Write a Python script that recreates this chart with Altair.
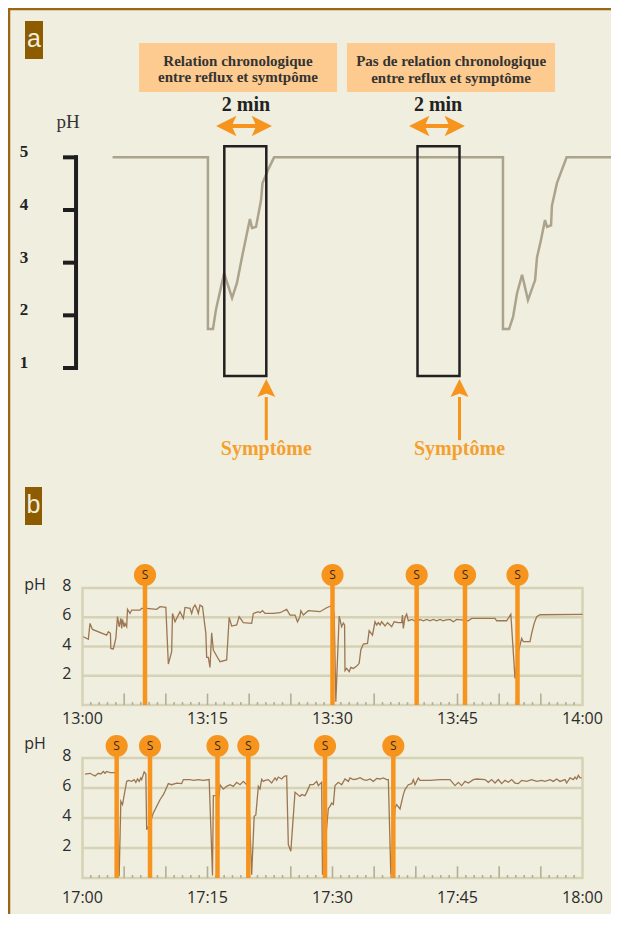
import altair as alt
import pandas as pd

# ---------------- panel a : schematic trace (minutes, pH) ----------------
a_trace = [(4.98, 5.0), (9.52, 5.0), (9.52, 1.74), (9.76, 1.74), (9.9, 2.1), (10.29, 2.8), (10.67, 2.33),
           (10.9, 2.61), (11.14, 3.1), (11.43, 3.66), (11.52, 3.83), (11.62, 3.66), (11.81, 3.68), (12.05, 4.19),
           (12.12, 4.51), (12.38, 4.76), (12.67, 5.0),
           (23.57, 5.0), (23.57, 1.74), (23.86, 1.74), (24.05, 1.97), (24.24, 2.42), (24.48, 2.77), (24.76, 2.29),
           (25.1, 2.67), (25.19, 3.1), (25.38, 3.43), (25.57, 3.81), (25.67, 3.68), (25.86, 3.71), (25.9, 4.08),
           (26.14, 4.51), (26.6, 5.0), (29.2, 5.0)]
a_window_start = [10.3, 19.5]
a_window_len = 2
a_ph_ticks = [1, 2, 3, 4, 5]
a_titles = ["Relation chronologique", "entre reflux et symtpôme",
            "Pas de relation chronologique", "entre reflux et symptôme"]

# ---------------- panel b : recordings (minutes after the hour, pH) ----------------
b1_trace = [(0.1, 4.67), (0.7, 4.49), (0.9, 5.58), (1.2, 5.17), (2.9, 4.78), (3.1, 5.01), (3.35, 4.90), (3.4, 3.87),
            (3.7, 3.83), (4.0, 4.56), (4.2, 6.04), (4.4, 5.35), (4.6, 5.92), (4.7, 5.24), (4.8, 5.85), (5.0, 5.35),
            (5.1, 5.58), (5.3, 5.35), (5.4, 6.54), (5.7, 6.26), (5.9, 6.49), (6.9, 6.49), (7.1, 6.61), (7.7, 6.61),
            (8.9, 6.54), (9.3, 6.72), (10.0, 6.67), (10.3, 2.80), (10.7, 3.64), (10.8, 6.26), (11.1, 5.69),
            (11.7, 6.38), (12.1, 5.92), (12.3, 6.67), (12.9, 6.61), (13.1, 6.26), (13.3, 6.67), (13.5, 6.83),
            (13.7, 6.61), (13.9, 6.26), (14.1, 6.83), (14.4, 6.72), (14.8, 4.90), (14.9, 3.26), (15.1, 3.26),
            (15.3, 2.57), (15.5, 4.94), (15.7, 3.76), (16.5, 2.96), (17.3, 3.08), (17.6, 5.99), (17.9, 5.40),
            (18.5, 5.47), (18.8, 6.04), (19.3, 5.63), (20.3, 5.58), (20.5, 6.26), (21.1, 6.38), (21.3, 6.31),
            (21.6, 6.45), (21.9, 6.26), (22.9, 6.26), (23.7, 6.31), (24.5, 6.54), (24.9, 6.15), (25.5, 6.15),
            (25.8, 5.69), (26.1, 6.04), (26.2, 6.45), (26.5, 6.15), (27.1, 6.45), (28.5, 6.38), (29.3, 6.65),
            (29.8, 6.77), (30.0, 6.61), (30.2, 6.26), (30.4, 0.23), (30.8, 6.08), (31.1, 5.35), (31.3, 5.60),
            (31.45, 5.47), (31.5, 2.35), (31.7, 2.50), (32.0, 2.28), (32.2, 2.57), (32.5, 2.50), (32.9, 2.66),
            (33.2, 2.85), (33.4, 3.76), (33.7, 4.17), (34.2, 4.21), (34.4, 5.08), (34.8, 4.78), (35.1, 5.69),
            (35.3, 5.47), (35.5, 5.63), (35.7, 5.47), (35.9, 5.69), (36.3, 5.40), (36.6, 5.63), (36.9, 5.47),
            (37.1, 5.35), (37.4, 5.69), (37.9, 5.63), (38.3, 5.63), (38.4, 6.15), (38.5, 5.24), (38.7, 5.99),
            (38.9, 6.22), (39.1, 5.76), (39.5, 5.85), (40.1, 5.69), (40.5, 5.85), (40.9, 5.76), (41.3, 5.85),
            (41.7, 5.76), (42.1, 5.85), (42.5, 5.76), (42.9, 5.85), (43.3, 5.76), (43.5, 5.80), (44.1, 5.85),
            (44.5, 5.69), (44.9, 5.85), (45.7, 5.80), (46.3, 5.76), (46.7, 5.92), (48.1, 5.92), (49.5, 5.92),
            (49.7, 5.76), (50.9, 5.76), (51.4, 6.20), (51.9, 1.82), (52.3, 3.64), (52.7, 4.56), (52.9, 4.33),
            (53.7, 4.33), (53.9, 4.90), (54.2, 5.58), (54.5, 6.04), (54.9, 6.17), (60.0, 6.20)]
b1_symptoms = [7.5, 30.0, 40.1, 45.9, 52.2]
b1_hours = ["13:00", "13:15", "13:30", "13:45", "14:00"]

b2_trace = [(0.3, 6.93), (0.9, 6.98), (1.5, 6.80), (1.9, 6.98), (2.2, 6.93), (2.5, 7.10), (2.7, 6.98), (2.9, 7.10),
            (3.3, 7.03), (3.9, 7.03), (4.0, 6.93), (4.4, 0.11), (4.6, 5.11), (4.8, 4.90), (5.3, 6.44), (5.5, 6.51),
            (5.9, 6.44), (6.2, 6.56), (6.4, 6.38), (6.6, 6.60), (6.8, 6.44), (7.0, 6.67), (7.1, 6.56), (7.4, 7.07),
            (7.6, 6.93), (7.7, 3.22), (8.1, 3.67), (8.5, 4.33), (9.3, 5.22), (9.7, 5.56), (9.9, 5.78), (10.3, 6.29),
            (10.7, 6.22), (11.3, 6.33), (11.9, 6.29), (12.1, 6.56), (12.9, 6.56), (13.3, 6.51), (13.9, 6.56),
            (14.5, 6.51), (15.2, 6.56), (15.6, 0.16), (15.7, 5.49), (16.4, 5.49), (16.5, 6.22), (16.9, 5.93),
            (17.3, 6.11), (17.7, 6.22), (18.1, 6.11), (18.5, 6.38), (18.9, 6.22), (19.3, 6.44), (19.7, 6.22),
            (19.9, 6.38), (20.3, 0.22), (20.6, 4.11), (20.8, 4.20), (21.1, 6.11), (21.3, 5.93), (21.5, 6.58),
            (21.7, 6.44), (21.9, 6.51), (22.3, 6.56), (22.7, 6.33), (23.1, 6.67), (23.3, 6.51), (23.5, 6.73),
            (23.9, 6.60), (24.2, 6.78), (24.5, 6.82), (24.7, 2.22), (25.0, 1.78), (25.5, 5.71), (26.1, 5.44),
            (26.3, 5.56), (26.7, 5.49), (26.9, 5.71), (27.3, 6.22), (27.7, 6.22), (28.1, 6.44), (28.3, 6.16),
            (28.7, 6.38), (28.8, 0.22), (29.5, 4.64), (29.7, 4.78), (29.9, 5.00), (30.1, 4.90), (30.3, 6.16),
            (30.7, 6.38), (31.1, 6.22), (31.5, 6.60), (31.9, 6.44), (32.1, 6.67), (32.5, 6.56), (32.9, 6.60),
            (33.3, 6.69), (33.7, 6.56), (34.1, 6.51), (34.5, 6.60), (34.9, 6.44), (35.3, 6.64), (35.7, 6.60),
            (36.1, 6.67), (36.5, 6.56), (36.7, 6.56), (37.0, 0.22), (37.5, 4.67), (37.7, 4.89), (38.1, 4.60),
            (38.5, 5.56), (38.7, 5.89), (39.1, 6.22), (39.5, 6.29), (39.7, 6.56), (39.9, 6.22), (40.3, 6.67),
            (40.5, 6.51), (41.7, 6.51), (42.9, 6.56), (44.1, 6.56), (44.7, 6.16), (45.1, 6.38), (45.5, 6.16),
            (45.9, 6.44), (46.3, 6.33), (46.9, 6.56), (47.3, 6.60), (48.3, 6.56), (48.7, 6.38), (49.1, 6.56),
            (49.5, 6.33), (49.9, 6.56), (50.3, 6.29), (50.7, 6.51), (51.1, 6.38), (51.5, 6.56), (51.9, 6.33),
            (52.3, 6.29), (52.7, 6.51), (53.3, 6.44), (53.9, 6.56), (54.5, 6.44), (55.1, 6.51), (55.5, 6.44),
            (56.1, 6.56), (56.5, 6.44), (56.9, 6.60), (57.3, 6.44), (57.9, 6.56), (58.1, 6.33), (58.5, 6.67),
            (58.9, 6.56), (59.1, 6.73), (59.3, 6.60), (59.5, 6.84), (59.7, 6.67), (59.9, 6.67)]
b2_symptoms = [4.1, 8.1, 16.2, 19.9, 29.1, 37.3]
b2_hours = ["17:00", "17:15", "17:30", "17:45", "18:00"]
b_ph_ticks = [2, 4, 6, 8]

# ---------------- styles ----------------
CREAM = "#F0EEDF"
BROWN = "#9C6614"
TAG = "#8D5B00"
ORANGE = "#F7941D"
SYMPT = "#F5A02E"
PEACH = "#FDCB8F"
GRID = "#D6D2B6"
TICK = "#B3AF96"
TRACE = "#9B7650"
GREYLINE = "#ABA38B"
DARK = "#2B2B2B"
SERIF = "Liberation Serif"
SANS = "Open Sans"

W, H = 603, 906


def one():
    return pd.DataFrame({"k": [0]})


# ================= panel a =================
AX = alt.Scale(domain=[0, 30], range=[0, 630], nice=False, zero=False)
AY = alt.Scale(domain=[0, 6], range=[412.67, 96.67], nice=False, zero=False)


def ax(f):
    return alt.X(f, type="quantitative", scale=AX, axis=None)


def ay(f):
    return alt.Y(f, type="quantitative", scale=AY, axis=None)


a_df = pd.DataFrame({"t": [p[0] for p in a_trace], "ph": [p[1] for p in a_trace],
                     "i": list(range(len(a_trace)))})
a_line = alt.Chart(a_df).mark_line(color=GREYLINE, strokeWidth=2.5).encode(
    x=ax("t"), y=ay("ph"), order=alt.Order("i:Q"))

win_df = pd.DataFrame({"s": a_window_start, "e": [s + a_window_len for s in a_window_start],
                       "lo": [0.85, 0.85], "hi": [5.21, 5.21]})
windows = alt.Chart(win_df).mark_rect(fill="transparent", stroke="#231F20", strokeWidth=2.5).encode(
    x=ax("s"), x2="e", y=ay("lo"), y2="hi")

hdr_df = pd.DataFrame({"x": [6.24, 16.14], "x2": [15.67, 26.05], "y": [6.24, 6.24], "y2": [7.17, 7.17]})
headers = alt.Chart(hdr_df).mark_rect(color=PEACH).encode(x=ax("x"), x2="x2", y=ay("y"), y2="y2")
hdr_txt_df = pd.DataFrame({"x": [10.95, 10.95, 21.1, 21.1], "y": [6.83, 6.52, 6.83, 6.50], "txt": a_titles})
header_text = alt.Chart(hdr_txt_df).mark_text(font=SERIF, fontSize=15, fontWeight="bold", color="#333333",
                                              baseline="middle").encode(x=ax("x"), y=ay("y"), text="txt:N")

two_df = pd.DataFrame({"x": [11.33, 20.48], "y": [5.99, 5.99], "txt": ["2 min", "2 min"]})
two_min = alt.Chart(two_df).mark_text(font=SERIF, fontSize=20, fontWeight="bold", color="#222222",
                                      baseline="middle").encode(x=ax("x"), y=ay("y"), text="txt:N")
shaft_df = pd.DataFrame({"x": [10.48, 19.67], "x2": [12.0, 21.19], "y": [5.595, 5.595]})
shafts = alt.Chart(shaft_df).mark_rule(color=ORANGE, strokeWidth=4).encode(x=ax("x"), x2="x2", y=ay("y"))
LEFT_HEAD = "M-1,0 L0.7,-0.85 L0.3,0 L0.7,0.85 Z"
RIGHT_HEAD = "M1,0 L-0.7,-0.85 L-0.3,0 L-0.7,0.85 Z"
UP_HEAD = "M0,-1 L0.75,0.5 L0,0.2 L-0.75,0.5 Z"
lh = alt.Chart(pd.DataFrame({"x": [10.48, 19.67], "y": [5.595, 5.595]})).mark_point(
    shape=LEFT_HEAD, size=576, filled=True, color=ORANGE, opacity=1, strokeWidth=0).encode(x=ax("x"), y=ay("y"))
rh = alt.Chart(pd.DataFrame({"x": [12.0, 21.19], "y": [5.595, 5.595]})).mark_point(
    shape=RIGHT_HEAD, size=576, filled=True, color=ORANGE, opacity=1, strokeWidth=0).encode(x=ax("x"), y=ay("y"))

sym_times = [s + a_window_len for s in a_window_start]
sym_df = pd.DataFrame({"x": sym_times, "y": [0.45, 0.45], "y2": [-0.37, -0.37], "yh": [0.563, 0.563],
                       "yt": [-0.54, -0.54], "txt": ["Symptôme", "Symptôme"]})
sym_shaft = alt.Chart(sym_df).mark_rule(color=ORANGE, strokeWidth=3).encode(x=ax("x"), y=ay("y"), y2="y2")
sym_head = alt.Chart(sym_df).mark_point(shape=UP_HEAD, size=576, filled=True, color=ORANGE, opacity=1,
                                        strokeWidth=0).encode(x=ax("x"), y=ay("yh"))
sym_text = alt.Chart(sym_df).mark_text(font=SERIF, fontSize=20, fontWeight="bold", color=SYMPT,
                                       baseline="middle").encode(x=ax("x"), y=ay("yt"), text="txt:N")

br_df = pd.DataFrame({"v": a_ph_ticks, "x": 2.62, "x2": 3.33, "lab": [str(v) for v in a_ph_ticks], "xl": 0.76})
br_ticks = alt.Chart(br_df).mark_rule(color="#1E1E1E", strokeWidth=4).encode(x=ax("x"), x2="x2", y=ay("v"))
br_bar = alt.Chart(pd.DataFrame({"x": [3.24], "y": [1], "y2": [5]})).mark_rule(
    color="#1E1E1E", strokeWidth=4, strokeCap="square").encode(x=ax("x"), y=ay("y"), y2="y2")
br_lab = alt.Chart(br_df).mark_text(font=SERIF, fontSize=17, fontWeight="bold", color="#222222",
                                    baseline="middle", dy=-5).encode(x=ax("xl"), y=ay("v"), text="lab:N")
ph_a = alt.Chart(pd.DataFrame({"x": [2.86], "y": [5.67], "txt": ["pH"]})).mark_text(
    font=SERIF, fontSize=19, color="#333333", baseline="middle").encode(x=ax("x"), y=ay("y"), text="txt:N")

panel_a = alt.layer(headers, header_text, two_min, shafts, lh, rh, a_line, windows,
                    sym_shaft, sym_head, sym_text, br_ticks, br_bar, br_lab, ph_a)


# ================= panel b =================
def panel_b(trace, symptoms, hours, y_range, s_level, ph_y, hour_dy):
    X = alt.Scale(domain=[0, 60], range=[74.5, 574.5], nice=False, zero=False)
    Y = alt.Scale(domain=[0, 8], range=y_range, nice=False, zero=False)

    def bx(f):
        return alt.X(f, type="quantitative", scale=X, axis=None)

    def by(f):
        return alt.Y(f, type="quantitative", scale=Y, axis=None)

    grid_df = pd.DataFrame({"v": b_ph_ticks[:-1], "a": 0, "b": 60})
    grid = alt.Chart(grid_df).mark_rule(color=GRID, strokeWidth=2.5).encode(x=bx("a"), x2="b", y=by("v"))
    frame = alt.Chart(pd.DataFrame({"x": [0], "x2": [60], "y": [0], "y2": [8]})).mark_rect(
        fill="transparent", stroke=GRID, strokeWidth=2.5).encode(x=bx("x"), x2="x2", y=by("y"), y2="y2")
    minutes = list(range(1, 60))
    tick_df = pd.DataFrame({"m": minutes, "y0": 0,
                            "y1": [0.78 if m % 5 == 0 else 0.2 for m in minutes]})
    ticks = alt.Chart(tick_df).mark_rule(color=TICK, strokeWidth=1.6).encode(x=bx("m"), y=by("y0"), y2="y1")
    ylab_df = pd.DataFrame({"v": b_ph_ticks, "x": 0, "lab": [str(v) for v in b_ph_ticks]})
    ylab = alt.Chart(ylab_df).mark_text(font=SANS, fontSize=16, color=DARK, align="right", baseline="middle",
                                        dx=-11, dy=-2).encode(x=bx("x"), y=by("v"), text="lab:N")
    hour_df = pd.DataFrame({"m": [0, 15, 30, 45, 60], "y": 0, "lab": hours})
    hlab = alt.Chart(hour_df).mark_text(font=SANS, fontSize=16, color=DARK, baseline="middle",
                                        dy=hour_dy).encode(x=bx("m"), y=by("y"), text="lab:N")
    ph = alt.Chart(pd.DataFrame({"x": [-7.0], "y": [ph_y], "txt": ["pH"]})).mark_text(
        font=SANS, fontSize=16, color=DARK, align="left", baseline="middle").encode(
        x=bx("x"), y=by("y"), text="txt:N")
    tr_df = pd.DataFrame({"t": [p[0] for p in trace], "ph": [p[1] for p in trace],
                          "i": list(range(len(trace)))})
    line = alt.Chart(tr_df).mark_line(color=TRACE, strokeWidth=1.3).encode(
        x=bx("t"), y=by("ph"), order=alt.Order("i:Q"))
    s_df = pd.DataFrame({"t": symptoms, "y0": 0, "ys": s_level, "lab": "S"})
    s_rule = alt.Chart(s_df).mark_rule(color=ORANGE, strokeWidth=4.5).encode(x=bx("t"), y=by("y0"), y2="ys")
    s_dot = alt.Chart(s_df).mark_circle(color=ORANGE, size=490, opacity=1).encode(x=bx("t"), y=by("ys"))
    s_txt = alt.Chart(s_df).mark_text(font=SANS, fontSize=12, color="#3A2A18", baseline="middle").encode(
        x=bx("t"), y=by("ys"), text="lab:N")
    return alt.layer(grid, frame, ticks, ylab, hlab, ph, line, s_rule, s_dot, s_txt)


panel_b1 = panel_b(b1_trace, b1_symptoms, b1_hours, [697, 580], 8.89, 8.2, 14)
panel_b2 = panel_b(b2_trace, b2_symptoms, b2_hours, [870, 750], 8.8, 8.93, 20)

# ================= frame & panel tags =================
border_top = alt.Chart(one()).mark_rule(color=BROWN, strokeWidth=2.5).encode(
    x=alt.value(0), x2=alt.value(W), y=alt.value(1))
border_left = alt.Chart(one()).mark_rule(color=BROWN, strokeWidth=2.5).encode(
    x=alt.value(1), y=alt.value(0), y2=alt.value(H))
tag_a = alt.Chart(one()).mark_rect(color=TAG).encode(
    x=alt.value(17), x2=alt.value(35), y=alt.value(13), y2=alt.value(51))
tag_b = alt.Chart(one()).mark_rect(color=TAG).encode(
    x=alt.value(17), x2=alt.value(34), y=alt.value(479), y2=alt.value(517))
txt_a = alt.Chart(one()).mark_text(text="a", font="Liberation Sans", fontSize=25, color=CREAM,
                                   baseline="alphabetic").encode(x=alt.value(26), y=alt.value(39))
txt_b = alt.Chart(one()).mark_text(text="b", font="Liberation Sans", fontSize=25, color=CREAM,
                                   baseline="alphabetic").encode(x=alt.value(25.5), y=alt.value(505))
decor = alt.layer(border_top, border_left, tag_a, tag_b, txt_a, txt_b)

chart = alt.layer(panel_a, panel_b1, panel_b2, decor).resolve_scale(
    x="independent", y="independent").properties(
    width=W, height=H, padding=0, background=CREAM,
    autosize=alt.AutoSizeParams(type="none")).configure_view(strokeWidth=0)

chart.save("out.html", embed_options={"renderer": "svg", "actions": False})
